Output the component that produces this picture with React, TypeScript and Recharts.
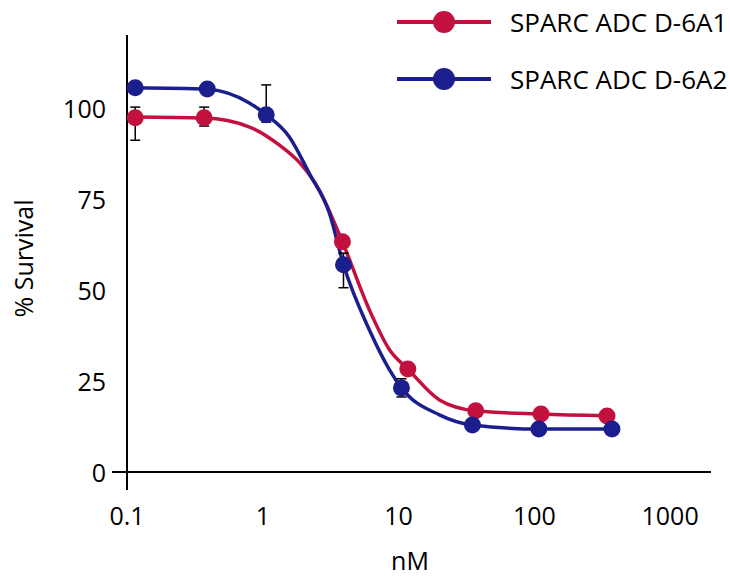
import { ComposedChart, Line, Scatter, XAxis, YAxis, ErrorBar } from 'recharts';

const RED = '#C2113F';
const BLUE = '#1B1F8E';

// measured points (nM, % survival), errors as [down, up]
const a1Conc = [0.115, 0.37, 3.86, 11.7, 37, 112, 343];
const a1Survival = [97.3, 97.3, 63.2, 28.3, 16.8, 15.9, 15.4];
const a1Err = [[6.2, 2.9], [2.3, 2.9], [0, 0], [0, 0], [0, 0], [0, 0], [0, 0]];

const a2Conc = [0.115, 0.39, 1.06, 3.93, 10.5, 35, 108, 373];
const a2Survival = [105.5, 105.2, 98.1, 56.9, 23.1, 12.9, 11.8, 11.8];
const a2Err = [[0, 0], [0, 0], [2, 8.2], [6.3, 3.2], [2.5, 2.5], [0, 0], [0, 0], [0, 0]];

// fitted curves
const a1FitConc = [0.115, 0.37, 0.79, 1.32, 1.86, 2.6, 3.86, 6.1, 8.6, 11.7, 20, 37, 112, 343];
const a1FitSurvival = [97.5, 97.2, 94.8, 89.8, 85, 77.5, 63.2, 44.5, 33.5, 28.3, 19.8, 16.8, 15.9, 15.4];

const a2FitConc = [0.115, 0.39, 0.79, 1.06, 1.57, 2.2, 3.1, 3.93, 6.1, 8.6, 10.5, 20, 35, 108, 373];
const a2FitSurvival = [105.5, 105.1, 101.4, 98.1, 92, 82, 71, 56.9, 39, 28, 23.1, 15.7, 12.9, 11.8, 11.8];

const xTicks = [0.1, 1, 10, 100, 1000];
const yTicks = [0, 25, 50, 75, 100];

const series = [
  { name: 'SPARC ADC D-6A1', color: RED },
  { name: 'SPARC ADC D-6A2', color: BLUE },
];

const toPoints = (xs: number[], ys: number[]) => xs.map((x, i) => ({ x, y: ys[i] }));
const toMeasured = (xs: number[], ys: number[], errs: number[][]) =>
  xs.map((x, i) => ({ x, y: ys[i], err: errs[i] }));

const a1Fit = toPoints(a1FitConc, a1FitSurvival);
const a2Fit = toPoints(a2FitConc, a2FitSurvival);
const a1Data = toMeasured(a1Conc, a1Survival, a1Err);
const a2Data = toMeasured(a2Conc, a2Survival, a2Err);

const FONT = 25;
const LEGEND_FONT = 26;

const XTick = ({ x, y, payload }: any) => (
  <g>
    {payload.value === 0.1 && (
      <line x1={x} y1={y} x2={x} y2={y + 18} stroke="#000" strokeWidth={2} />
    )}
    <text x={x} y={y + 43} textAnchor="middle" dominantBaseline="central" fontSize={FONT} fill="#000">
      {payload.value}
    </text>
  </g>
);

const YTick = ({ x, y, payload }: any) => (
  <g>
    {payload.value === 0 && (
      <line x1={x - 15} y1={y} x2={x} y2={y} stroke="#000" strokeWidth={2} />
    )}
    <text x={x - 21} y={y} textAnchor="end" dominantBaseline="central" fontSize={FONT} fill="#000">
      {payload.value}
    </text>
  </g>
);

const dot = (color: string) => (p: any) => <circle cx={p.cx} cy={p.cy} r={8.5} fill={color} />;

export default function App() {
  return (
    <div style={{ position: 'relative', width: 730, height: 577, fontFamily: '"Open Sans", sans-serif' }}>
      <style>{'body { margin: 0; }'}</style>
      <ComposedChart width={730} height={577} margin={{ top: 35, right: 19, bottom: 0, left: 0 }}>
        <XAxis
          dataKey="x"
          type="number"
          scale="log"
          domain={[0.1, 2000]}
          ticks={xTicks}
          allowDataOverflow
          height={105}
          tickSize={0}
          tickMargin={0}
          tickLine={false}
          tick={<XTick />}
          axisLine={{ stroke: '#000', strokeWidth: 2 }}
          label={{
            content: ({ viewBox }: any) => (
              <text
                x={viewBox.x + viewBox.width / 2 - 9}
                y={viewBox.y + 88}
                textAnchor="middle"
                dominantBaseline="central"
                fontSize={FONT}
                fill="#000"
              >
                nM
              </text>
            ),
          }}
        />
        <YAxis
          dataKey="y"
          type="number"
          domain={[0, 120]}
          ticks={yTicks}
          allowDataOverflow
          width={127}
          tickSize={0}
          tickMargin={0}
          tickLine={false}
          tick={<YTick />}
          axisLine={{ stroke: '#000', strokeWidth: 2 }}
          label={{
            content: ({ viewBox }: any) => {
              const cx = viewBox.x + 23;
              const cy = viewBox.y + viewBox.height / 2 + 5;
              return (
                <text
                  x={cx}
                  y={cy}
                  transform={`rotate(-90 ${cx} ${cy})`}
                  textAnchor="middle"
                  dominantBaseline="central"
                  fontSize={FONT}
                  fill="#000"
                >
                  % Survival
                </text>
              );
            },
          }}
        />
        <Line data={a1Fit} dataKey="y" type="monotone" stroke={RED} strokeWidth={3.5} dot={false} isAnimationActive={false} />
        <Line data={a2Fit} dataKey="y" type="monotone" stroke={BLUE} strokeWidth={3.5} dot={false} isAnimationActive={false} />
        <Scatter data={a1Data} dataKey="y" shape={dot(RED)} isAnimationActive={false}>
          <ErrorBar dataKey="err" direction="y" width={5} stroke="#000" strokeWidth={1.5} />
        </Scatter>
        <Scatter data={a2Data} dataKey="y" shape={dot(BLUE)} isAnimationActive={false}>
          <ErrorBar dataKey="err" direction="y" width={5} stroke="#000" strokeWidth={1.5} />
        </Scatter>
      </ComposedChart>

      {/* legend */}
      <svg width={340} height={110} style={{ position: 'absolute', left: 390, top: 0 }}>
        {series.map((s, i) => {
          const cy = 22 + i * 57;
          return (
            <g key={s.name}>
              <line x1={7} y1={cy} x2={101} y2={cy} stroke={s.color} strokeWidth={4} />
              <circle cx={54} cy={cy} r={11} fill={s.color} />
              <text x={120} y={cy} dominantBaseline="central" fontSize={LEGEND_FONT} fill="#000">
                {s.name}
              </text>
            </g>
          );
        })}
      </svg>
    </div>
  );
}
